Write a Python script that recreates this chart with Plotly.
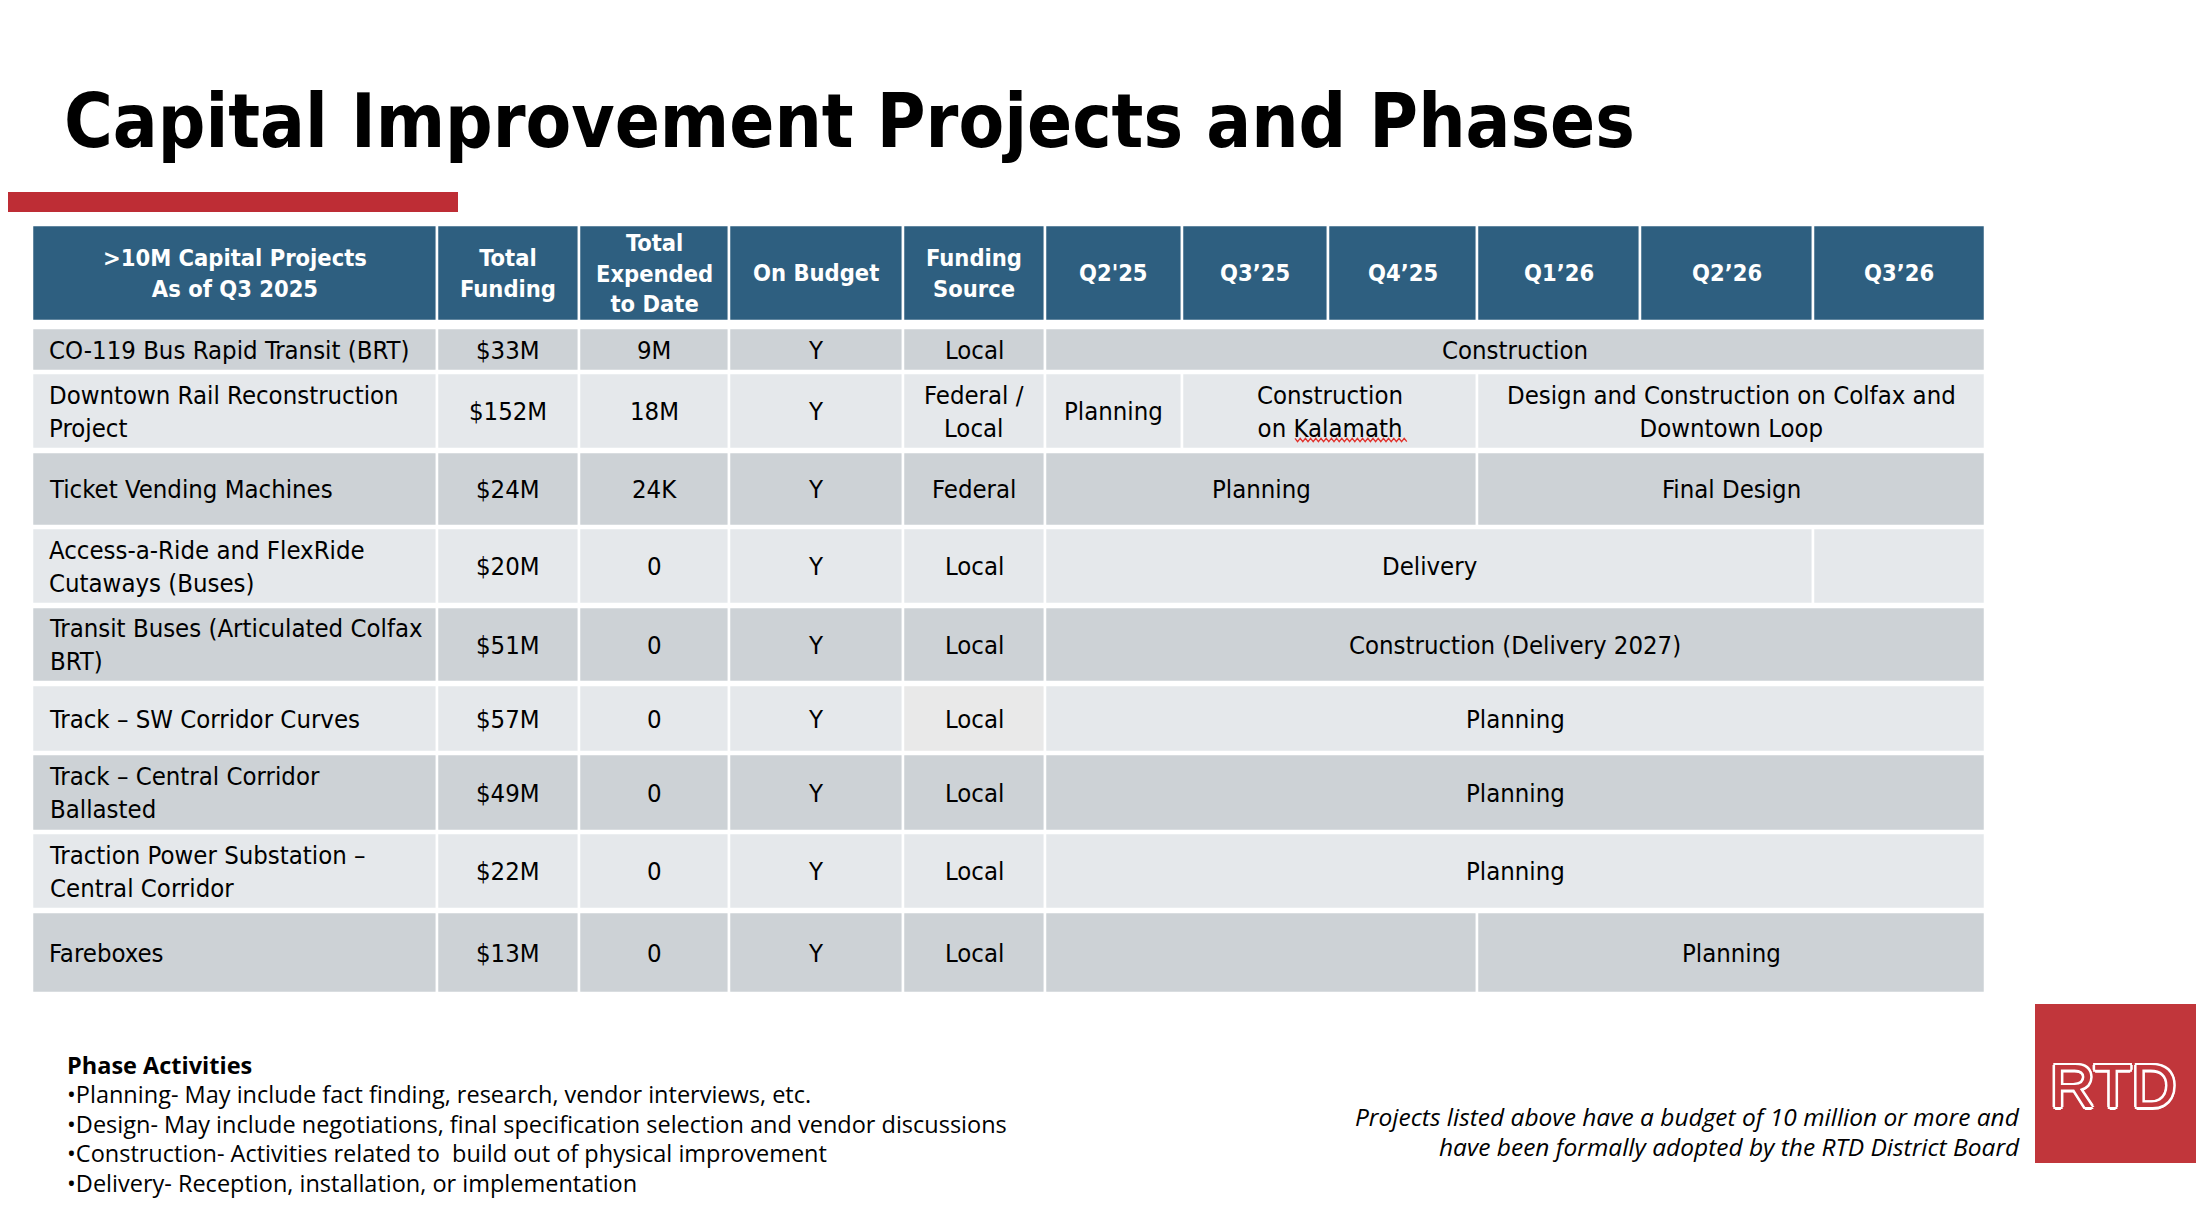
import plotly.graph_objects as go

# ---------------- data ----------------
title_text = "Capital Improvement Projects and Phases"
header_labels = [">10M Capital Projects<br>As of Q3 2025", "Total<br>Funding",
                 "Total<br>Expended<br>to Date", "On Budget", "Funding<br>Source"]
quarters = ["Q2'25", "Q3’25", "Q4’25", "Q1’26", "Q2’26", "Q3’26"]

projects = [
    "CO-119 Bus Rapid Transit (BRT)",
    "Downtown Rail Reconstruction<br>Project",
    "Ticket Vending Machines",
    "Access-a-Ride and FlexRide<br>Cutaways (Buses)",
    "Transit Buses (Articulated Colfax<br>BRT)",
    "Track – SW Corridor Curves",
    "Track – Central Corridor<br>Ballasted",
    "Traction Power Substation –<br>Central Corridor",
    "Fareboxes",
]
total_funding = ["$33M", "$152M", "$24M", "$20M", "$51M", "$57M", "$49M", "$22M", "$13M"]
expended = ["9M", "18M", "24K", "0", "0", "0", "0", "0", "0"]
on_budget = ["Y", "Y", "Y", "Y", "Y", "Y", "Y", "Y", "Y"]
funding_source = ["Local", "Federal /<br>Local", "Federal", "Local", "Local",
                  "Local", "Local", "Local", "Local"]

# phases per project: label, first quarter index, end quarter index (exclusive)
phase_labels = [
    ["Construction"],
    ["Planning", "Construction<br>on Kalamath", "Design and Construction on Colfax and<br>Downtown Loop"],
    ["Planning", "Final Design"],
    ["Delivery", ""],
    ["Construction (Delivery 2027)"],
    ["Planning"],
    ["Planning"],
    ["Planning"],
    ["", "Planning"],
]
phase_start = [[0], [0, 1, 3], [0, 3], [0, 5], [0], [0], [0], [0], [0, 3]]
phase_end = [[6], [1, 3, 6], [3, 6], [5, 6], [6], [6], [6], [6], [3, 6]]

notes_title = "Phase Activities"
notes = [
    "•Planning- May include fact finding, research, vendor interviews, etc.",
    "•Design- May include negotiations, final specification selection and vendor discussions",
    "•Construction- Activities related to  build out of physical improvement",
    "•Delivery- Reception, installation, or implementation",
]
footnote = ["Projects listed above have a budget of 10 million or more and",
            "have been formally adopted by the RTD District Board"]
logo_text = "RTD"

# ---------------- layout constants ----------------
W, H = 2210, 1208
M = 8  # page body margin of the browser
col_edges = [32, 437, 579, 729, 903, 1045, 1182, 1328, 1477, 1640, 1813, 1985]
header_y = (225, 321)
row_y = [(328, 371), (373, 449), (452, 526), (528, 604), (607, 682),
         (685, 752), (754, 831), (833, 909), (912, 993)]

HEAD_BG = "#2E5F80"
DARK = "#CDD2D6"
LIGHT = "#E5E8EB"
RED = "#BE2D35"
TFONT = "DejaVu Sans Condensed, DejaVu Sans, sans-serif"
NFONT = "Open Sans, sans-serif"

fig = go.Figure()
fig.add_trace(go.Scatter(x=[], y=[], showlegend=False))

shapes = []
ann = []


def rect(x0, x1, y0, y1, fill, lw=2.5, lc="white"):
    shapes.append(dict(type="rect", xref="x", yref="y", x0=x0, x1=x1, y0=y0, y1=y1,
                       fillcolor=fill, line=dict(color=lc, width=lw), layer="below"))


def text(x, y, s, size, color="black", bold=False, xanchor="center", align="center",
         family=TFONT, italic=False, shadow=None):
    f = dict(family=family, size=size, color=color,
             weight="bold" if bold else "normal",
             style="italic" if italic else "normal")
    if shadow:
        f["shadow"] = shadow
    ann.append(dict(x=x, y=y, xref="x", yref="y", text=s, showarrow=False,
                    xanchor=xanchor, yanchor="middle", align=align, font=f))


# red accent bar
rect(M, 458, 192, 212, RED, lw=0)

# title
text(62, 121, title_text, 74, bold=True, xanchor="left")

# header
hy0, hy1 = header_y
hmid = (hy0 + hy1) / 2
all_headers = header_labels + quarters
for i, lab in enumerate(all_headers):
    x0, x1 = col_edges[i], col_edges[i + 1]
    rect(x0, x1, hy0, hy1, HEAD_BG)
    text((x0 + x1) / 2, hmid, lab, 23.5, color="white", bold=True)

# body rows
for r in range(len(projects)):
    y0, y1 = row_y[r]
    ym = (y0 + y1) / 2
    fill = DARK if r % 2 == 0 else LIGHT
    vals = [projects[r], total_funding[r], expended[r], on_budget[r], funding_source[r]]
    for c, v in enumerate(vals):
        x0, x1 = col_edges[c], col_edges[c + 1]
        f = fill
        if c == 4 and r == 5:
            f = "#E9E9E9"
        rect(x0, x1, y0, y1, f)
        if c == 0:
            text(x0 + 15, ym, v, 25.5, xanchor="left", align="left")
        else:
            text((x0 + x1) / 2, ym, v, 25.5)
    q0 = 5
    for lab, s, e in zip(phase_labels[r], phase_start[r], phase_end[r]):
        x0, x1 = col_edges[q0 + s], col_edges[q0 + e]
        rect(x0, x1, y0, y1, fill)
        if lab:
            text((x0 + x1) / 2, ym, lab, 25.5)

# spell-check squiggle under "Kalamath"
pts = []
xx = 1295.0
k = 0
while xx <= 1407:
    pts.append(f"{xx:.1f},{440 + (1.6 if k % 2 else -1.6):.1f}")
    xx += 2.6
    k += 1
shapes.append(dict(type="path", xref="x", yref="y", path="M" + " L".join(pts),
                   line=dict(color="#E0302A", width=1.3)))

# notes
text(65, 1065, notes_title, 23.5, bold=True, xanchor="left", align="left", family=NFONT)
for i, n in enumerate(notes):
    text(65, 1094 + 29.5 * i, n, 23.5, xanchor="left", align="left", family=NFONT)

# footnote
for i, f in enumerate(footnote):
    text(2022, 1116 + 30 * i, f, 24.5, xanchor="right", align="right", family=NFONT, italic=True)

# logo
rect(2035, 2196, 1004, 1163, "#C1363B", lw=0)
outline = ", ".join(f"{dx}px {dy}px 0 white" for dx, dy in
                    [(2.5, 0), (-2.5, 0), (0, 2.5), (0, -2.5), (1.8, 1.8),
                     (-1.8, -1.8), (1.8, -1.8), (-1.8, 1.8)])
text(2113, 1085, logo_text, 62, color="#C1363B", bold=False,
     family="Liberation Sans Narrow, Liberation Sans, sans-serif", shadow=outline)

fig.update_layout(
    width=W - 2 * M, height=H - 2 * M, margin=dict(l=0, r=0, t=0, b=0),
    paper_bgcolor="white", plot_bgcolor="white",
    xaxis=dict(range=[M, W - M], visible=False, fixedrange=True),
    yaxis=dict(range=[H - M, M], visible=False, fixedrange=True),
    shapes=shapes, annotations=ann, showlegend=False,
)
fig.write_html("out.html")
